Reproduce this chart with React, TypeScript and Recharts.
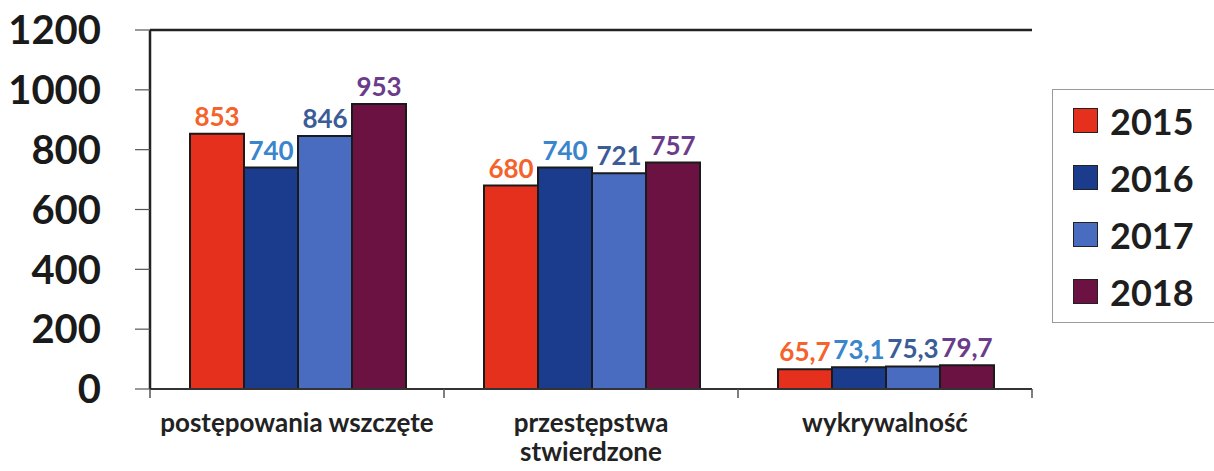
import { BarChart, Bar, XAxis, YAxis, CartesianGrid, Legend, LabelList, ReferenceLine } from "recharts";

const categories = ["postępowania wszczęte", "przestępstwa stwierdzone", "wykrywalność"];
const categoryLines = [["postępowania wszczęte"], ["przestępstwa", "stwierdzone"], ["wykrywalność"]];
const years = ["2015", "2016", "2017", "2018"];
const values2015 = [853, 680, 65.7];
const values2016 = [740, 740, 73.1];
const values2017 = [846, 721, 75.3];
const values2018 = [953, 757, 79.7];
const yTicks = [0, 200, 400, 600, 800, 1000, 1200];

const barColors = ["#e5301e", "#1b3c8c", "#4a6cc0", "#6b1242"];
const labelColors = ["#f5622a", "#3a85cc", "#3b5c96", "#6a3c8a"];

const WIDTH = 1214;
const HEIGHT = 471;
const PLOT_LEFT = 150;
const PLOT_RIGHT = 1032;
const PLOT_BOTTOM = 389;
const BAND = (PLOT_RIGHT - PLOT_LEFT) / categories.length;
const FONT = "Lato, 'Open Sans', sans-serif";

const data = categories.map((name, i) => ({
  name,
  y2015: values2015[i],
  y2016: values2016[i],
  y2017: values2017[i],
  y2018: values2018[i],
}));

function formatPl(v: number): string {
  return String(v).replace(".", ",");
}

function CategoryTick(props: any) {
  const { x, index } = props;
  const left = x - BAND / 2;
  const lines = categoryLines[index] || [];
  return (
    <g>
      <line x1={left} x2={left} y1={PLOT_BOTTOM} y2={PLOT_BOTTOM + 9} stroke="#555" strokeWidth={1.5} />
      {index === categories.length - 1 && (
        <line x1={x + BAND / 2} x2={x + BAND / 2} y1={PLOT_BOTTOM} y2={PLOT_BOTTOM + 9} stroke="#555" strokeWidth={1.5} />
      )}
      <text
        x={x}
        y={PLOT_BOTTOM + 43}
        textAnchor="middle"
        fill="#222"
        style={{ fontSize: 26, fontWeight: 700, fontFamily: FONT }}
      >
        {lines.map((l, i) => (
          <tspan key={i} x={x} dy={i === 0 ? 0 : 29}>
            {l}
          </tspan>
        ))}
      </text>
    </g>
  );
}

function LegendBox() {
  return (
    <div
      style={{
        border: "1.5px solid #9a9a9a",
        background: "#fff",
        width: 175,
        height: 234,
        boxSizing: "border-box",
        paddingTop: 2,
        paddingLeft: 20,
        fontFamily: FONT,
      }}
    >
      {years.map((y, i) => (
        <div key={y} style={{ display: "flex", alignItems: "center", height: 57 }}>
          <div
            style={{
              width: 25,
              height: 25,
              background: barColors[i],
              border: "1.5px solid #222",
              boxSizing: "border-box",
              marginRight: 12,
            }}
          />
          <span style={{ fontSize: 36, fontWeight: 700, color: "#1e1e1e" }}>{y}</span>
        </div>
      ))}
    </div>
  );
}

export default function App() {
  const keys = ["y2015", "y2016", "y2017", "y2018"];
  return (
    <div style={{ position: "absolute", left: 0, top: 0, background: "#fff" }}>
      <BarChart
        width={WIDTH}
        height={HEIGHT}
        data={data}
        margin={{ top: 30, right: WIDTH - PLOT_RIGHT, bottom: 0, left: 0 }}
        barCategoryGap={40}
        barGap={0}
        style={{ fontFamily: FONT }}
      >
        <CartesianGrid vertical={false} stroke="#8a8a8a" strokeWidth={1.2} />
        <XAxis
          dataKey="name"
          height={HEIGHT - PLOT_BOTTOM}
          axisLine={{ stroke: "#333", strokeWidth: 2 }}
          tickLine={false}
          tick={<CategoryTick />}
          interval={0}
        />
        <YAxis
          yAxisId="left"
          width={PLOT_LEFT}
          domain={[0, 1200]}
          ticks={yTicks}
          tickSize={15}
          tickMargin={34}
          axisLine={{ stroke: "#222", strokeWidth: 2.5 }}
          tickLine={{ stroke: "#555", strokeWidth: 1.2 }}
          tick={{ fontSize: 40, fontWeight: 700, fill: "#1a1a1a", fontFamily: FONT }}
        />
        <YAxis
          yAxisId="right"
          orientation="right"
          width={0}
          domain={[0, 1200]}
          tick={false}
          tickLine={false}
          axisLine={{ stroke: "#222", strokeWidth: 2.5 }}
        />
        <ReferenceLine yAxisId="left" y={1200} stroke="#222" strokeWidth={2.5} />
        <Legend
          verticalAlign="middle"
          align="center"
          layout="horizontal"
          wrapperStyle={{ left: 1052, top: 89, width: 175, height: 234 }}
          content={() => <LegendBox />}
        />
        {keys.map((k, i) => (
          <Bar
            key={k}
            yAxisId="left"
            dataKey={k}
            name={years[i]}
            fill={barColors[i]}
            stroke="#1a1a1a"
            strokeWidth={2}
            isAnimationActive={false}
          >
            <LabelList
              dataKey={k}
              position="top"
              offset={8}
              formatter={(v: any) => formatPl(v)}
              fill={labelColors[i]}
              style={{ fontSize: 26, fontWeight: 700, fontFamily: FONT }}
            />
          </Bar>
        ))}
      </BarChart>
    </div>
  );
}
